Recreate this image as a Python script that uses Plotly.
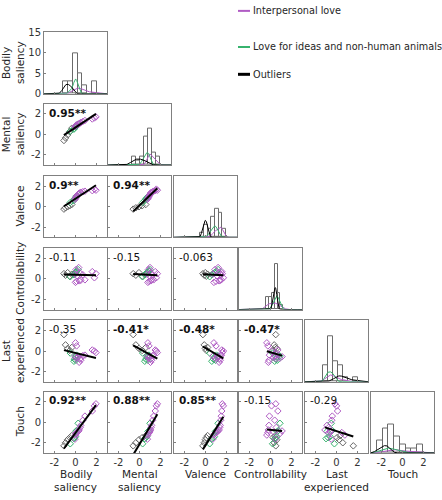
import numpy as np
import plotly.graph_objects as go

# ---------------- data ----------------
variables = ["Bodily saliency", "Mental saliency", "Valence", "Controllability", "Last experienced", "Touch"]
axis_label_lines = [["Bodily", "saliency"], ["Mental", "saliency"], ["Valence"], ["Controllability"],
                    ["Last", "experienced"], ["Touch"]]
groups = ["Interpersonal love", "Love for ideas and non-human animals", "Outliers"]

interpersonal_bodily = [-0.05, 0.0, 0.05, 0.1, 0.15, 0.3, 0.35, 0.45, 0.5, 0.7, 0.9, 1.6, 1.8, 1.95]
interpersonal_mental = [0.75, 0.8, 0.85, 0.9, 0.95, 1.0, 1.05, 1.1, 1.15, 1.25, 1.35, 1.5, 1.6, 1.7]
interpersonal_valence = [0.7, 0.8, 0.9, 1.0, 1.1, 1.2, 1.3, 1.35, 1.4, 1.45, 1.5, 1.55, 1.7, 1.6]
interpersonal_control = [0.45, -0.35, 0.9, -0.25, 0.3, 1.1, -0.2, 0.55, -0.15, 0.4, -0.1, 0.7, 0.1, 0.5]
interpersonal_last = [-0.5, 0.8, -0.7, 0.5, -0.6, -0.55, -1.1, -0.75, -0.9, -0.45, -0.4, 0.1, 0.0, -0.15]
interpersonal_touch = [-1.65, -1.25, -1.1, -1.0, -0.95, -0.85, -0.75, -0.5, -0.3, 0.2, 0.6, 1.1, 1.6, 1.8]

ideas_bodily = [-0.5, -0.15, -0.1, 0.0, 0.05, 0.1, 0.25]
ideas_mental = [0.3, 0.5, 0.6, 0.7, 0.8, 0.9, 1.0]
ideas_valence = [0.4, 0.6, 0.75, 0.85, 0.95, 1.05, 1.2]
ideas_control = [0.2, 0.4, 0.5, 0.6, 0.65, 0.75, 0.9]
ideas_last = [-0.2, -1.0, -0.8, -0.6, -0.9, -0.4, -0.5]
ideas_touch = [-2.1, -1.6, -1.5, -1.4, -0.9, -0.8, -0.1]

outlier_bodily = [-1.1, -0.95, -0.75, -0.55, -0.35]
outlier_mental = [-0.6, -0.35, -0.05, 0.25, 0.6]
outlier_valence = [-0.25, -0.12, -0.02, 0.08, 0.2]
outlier_control = [0.5, 0.35, 0.6, 0.25, 0.45]
outlier_last = [1.6, 0.6, 0.25, 0.05, 0.35]
outlier_touch = [-2.3, -2.0, -1.7, -1.5, -1.3]

corr_values = ["0.95", "0.9", "0.94", "-0.11", "-0.15", "-0.063", "-0.35", "-0.41", "-0.48", "-0.47",
               "0.92", "0.88", "0.85", "-0.15", "-0.29"]
corr_stars = ["**", "**", "**", "", "", "", "", "*", "*", "*", "**", "**", "**", "", ""]

hist_start = [-1.15, -0.7, -0.5, -0.45, -1.27, -2.45]
hist_size = [0.45, 0.38, 0.35, 0.28, 0.47, 0.55]

scatter_ticks = [-2, 0, 2]
hist_count_ticks = [0, 5, 10, 15]

# ---------------- styling ----------------
FONT = "DejaVu Sans"
group_colors = ["#B05CC4", "#37B36E", "#666666"]
curve_colors = ["#B05CC4", "#37B36E", "#000000"]
W, H = 442, 500
col_left = [44, 108, 174, 239, 305, 371]
row_top = [27, 100, 174, 248, 322, 395]
PW = PH = 63
CURVE_SCALE = 2.3

data = [
    [interpersonal_bodily, interpersonal_mental, interpersonal_valence, interpersonal_control, interpersonal_last, interpersonal_touch],
    [ideas_bodily, ideas_mental, ideas_valence, ideas_control, ideas_last, ideas_touch],
    [outlier_bodily, outlier_mental, outlier_valence, outlier_control, outlier_last, outlier_touch],
]


def kde(vals, grid):
    v = np.asarray(vals, float)
    n = len(v)
    s = v.std(ddof=1)
    bw = s * (4.0 / (3.0 * n)) ** 0.2
    z = (grid[:, None] - v[None, :]) / bw
    return np.exp(-0.5 * z ** 2).sum(axis=1) / (n * bw * np.sqrt(2 * np.pi))


fig = go.Figure()
axes = {}
annotations = []
grid = np.linspace(-3, 3, 301)
common = dict(showline=True, mirror=True, linecolor="#808080", linewidth=1, showgrid=False,
              zeroline=False, tickfont=dict(size=10, color="#333333", family=FONT), fixedrange=True)

k = 0
ci = 0
for r in range(6):
    for c in range(r + 1):
        k += 1
        xa = "x" if k == 1 else f"x{k}"
        ya = "y" if k == 1 else f"y{k}"
        xkey = "xaxis" if k == 1 else f"xaxis{k}"
        ykey = "yaxis" if k == 1 else f"yaxis{k}"
        xdom = [col_left[c] / W, (col_left[c] + PW) / W]
        ydom = [1 - (row_top[r] + PH) / H, 1 - row_top[r] / H]
        axes[xkey] = dict(common, domain=xdom, anchor=ya, range=[-3, 3], tickvals=scatter_ticks,
                          ticktext=[str(t) for t in scatter_ticks], ticks="inside", ticklen=2,
                          tickcolor="#808080", showticklabels=(r == 5))
        if r == c:
            allv = np.concatenate([data[g][c] for g in range(3)])
            fig.add_trace(go.Histogram(x=allv, xbins=dict(start=hist_start[c], end=3, size=hist_size[c]),
                                       marker=dict(color="white", line=dict(color="#6a6a6a", width=1)),
                                       xaxis=xa, yaxis=ya, showlegend=False, hoverinfo="skip"))
            for g in range(3):
                yv = kde(data[g][c], grid) * CURVE_SCALE
                fig.add_trace(go.Scatter(x=grid, y=yv, mode="lines",
                                         line=dict(color=curve_colors[g], width=1),
                                         xaxis=xa, yaxis=ya, showlegend=False, hoverinfo="skip"))
            axes[ykey] = dict(common, domain=ydom, anchor=xa, range=[0, 15], tickvals=hist_count_ticks,
                              ticktext=[str(t) for t in hist_count_ticks],
                              ticks="inside" if r == 0 else "", ticklen=2, tickcolor="#808080",
                              showticklabels=(r == 0))
        else:
            for g in [2, 1, 0]:
                fig.add_trace(go.Scatter(x=data[g][c], y=data[g][r], mode="markers",
                                         marker=dict(symbol="diamond-open", size=5,
                                                     color=group_colors[g], line=dict(width=1)),
                                         xaxis=xa, yaxis=ya, showlegend=False, hoverinfo="skip"))
            ax = np.concatenate([data[g][c] for g in range(3)])
            ay = np.concatenate([data[g][r] for g in range(3)])
            slope, inter = np.polyfit(ax, ay, 1)
            xs = np.array([ax.min(), ax.max()])
            fig.add_trace(go.Scatter(x=xs, y=slope * xs + inter, mode="lines",
                                     line=dict(color="black", width=2),
                                     xaxis=xa, yaxis=ya, showlegend=False, hoverinfo="skip"))
            axes[ykey] = dict(common, domain=ydom, anchor=xa, range=[-3, 3], tickvals=scatter_ticks,
                              ticktext=[str(t) for t in scatter_ticks], ticks="inside", ticklen=2,
                              tickcolor="#808080", showticklabels=(c == 0))
            label = corr_values[ci] + corr_stars[ci]
            if corr_stars[ci]:
                label = "<b>" + label + "</b>"
            annotations.append(dict(x=(col_left[c] + 3) / W, y=1 - (row_top[r] + 1) / H, xref="paper", yref="paper",
                                    xanchor="left", yanchor="top", text=label, showarrow=False,
                                    font=dict(size=10.5, color="#111111", family=FONT)))
            ci += 1

# axis titles (one annotation per text line)
TITLE_FONT = dict(size=10.5, color="#262626", family=FONT)
for i in range(6):
    lines = axis_label_lines[i]
    ycen = 1 - (row_top[i] + PH / 2) / H
    xs_rows = [6, 20] if len(lines) == 2 else [20]
    for line, xp in zip(lines, xs_rows):
        annotations.append(dict(x=xp / W, y=ycen, xref="paper", yref="paper", xanchor="center",
                                yanchor="middle", textangle=-90, text=line, showarrow=False, font=TITLE_FONT))
    for j, line in enumerate(lines):
        annotations.append(dict(x=(col_left[i] + PW / 2) / W, y=1 - (480 + 13 * j) / H, xref="paper", yref="paper",
                                xanchor="center", yanchor="middle", text=line, showarrow=False, font=TITLE_FONT))

# legend (drawn manually)
legend_y = [5, 42, 70]
legend_w = [2, 2, 3]
shapes = []
for g in range(3):
    shapes.append(dict(type="line", xref="paper", yref="paper", x0=238 / W, x1=250 / W,
                       y0=1 - legend_y[g] / H, y1=1 - legend_y[g] / H,
                       line=dict(color=curve_colors[g], width=legend_w[g])))
    annotations.append(dict(x=251 / W, y=1 - legend_y[g] / H, xref="paper", yref="paper",
                            xanchor="left", yanchor="middle", text=groups[g], showarrow=False,
                            font=dict(size=9.7, color="#262626", family=FONT)))

fig.update_layout(width=W, height=H, margin=dict(l=0, r=0, t=0, b=0), plot_bgcolor="white",
                  paper_bgcolor="white", bargap=0, barmode="overlay", showlegend=False,
                  annotations=annotations, shapes=shapes, font=dict(family=FONT), **axes)
fig.write_html("out.html", config={"displayModeBar": False},
               post_script="document.body.style.margin='0px';")
